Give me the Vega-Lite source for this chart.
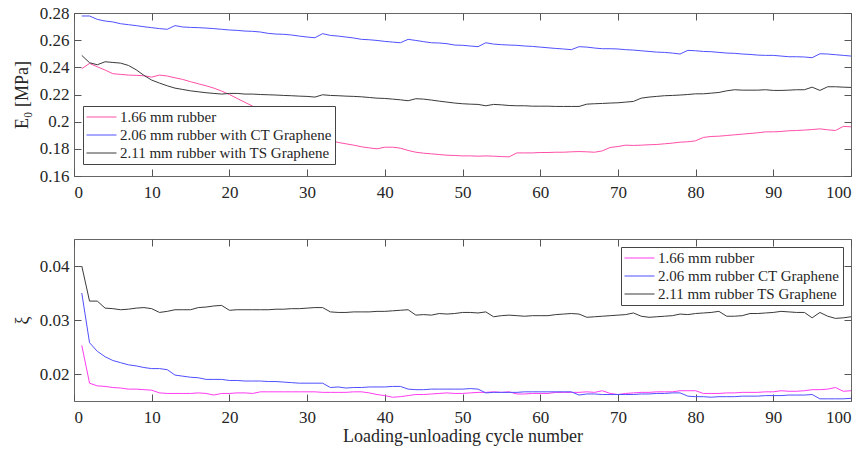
{
"$schema":"https://vega.github.io/schema/vega-lite/v6.json",
"autosize":{"type":"pad"},
"padding":{"left":12,"top":3,"right":5,"bottom":4},
"background":"white",
"bounds":"flush",
"spacing":63,
"config":{
 "font":"Liberation Serif",
 "view":{"stroke":"#666","strokeWidth":1},
 "axis":{"domain":false,"grid":false,"tickColor":"#555","tickSize":-7,"labelFont":"Liberation Serif","labelFontSize":17,"labelColor":"#262626","titleFont":"Liberation Serif","titleFontSize":18,"titleFontWeight":"normal","titleColor":"#262626"},
 "legend":{"orient":"none","symbolType":"M-1,0H3","symbolSize":225,"symbolStrokeWidth":1,"labelFont":"Liberation Serif","labelFontSize":15,"labelColor":"#262626","strokeColor":"#444","fillColor":"white","padding":3,"rowPadding":2,"labelOffset":18,"labelLimit":0,"title":null}
},
"datasets":{
"top":[
{"c":1,"p":0.2390,"b":0.2778,"k":0.2488},
{"c":2,"p":0.2429,"b":0.2778,"k":0.2434},
{"c":3,"p":0.2404,"b":0.2753,"k":0.2419},
{"c":4,"p":0.2380,"b":0.2741,"k":0.2441},
{"c":5,"p":0.2353,"b":0.2734,"k":0.2436},
{"c":6,"p":0.2348,"b":0.2721,"k":0.2431},
{"c":7,"p":0.2343,"b":0.2714,"k":0.2414},
{"c":8,"p":0.2341,"b":0.2707,"k":0.2382},
{"c":9,"p":0.2338,"b":0.2699,"k":0.2341},
{"c":10,"p":0.2328,"b":0.2692,"k":0.2306},
{"c":11,"p":0.2343,"b":0.2685,"k":0.2284},
{"c":12,"p":0.2336,"b":0.2680,"k":0.2264},
{"c":13,"p":0.2323,"b":0.2707,"k":0.2247},
{"c":14,"p":0.2311,"b":0.2697,"k":0.2237},
{"c":15,"p":0.2294,"b":0.2694,"k":0.2227},
{"c":16,"p":0.2279,"b":0.2692,"k":0.2220},
{"c":17,"p":0.2264,"b":0.2689,"k":0.2213},
{"c":18,"p":0.2247,"b":0.2685,"k":0.2208},
{"c":19,"p":0.2225,"b":0.2680,"k":0.2203},
{"c":20,"p":0.2200,"b":0.2675,"k":0.2208},
{"c":21,"p":0.2171,"b":0.2672,"k":0.2208},
{"c":22,"p":0.2142,"b":0.2667,"k":0.2203},
{"c":23,"p":0.2114,"b":0.2665,"k":0.2203},
{"c":24,"p":0.2086,"b":0.2660,"k":0.2200},
{"c":25,"p":0.2058,"b":0.2650,"k":0.2198},
{"c":26,"p":0.2030,"b":0.2645,"k":0.2196},
{"c":27,"p":0.2003,"b":0.2643,"k":0.2193},
{"c":28,"p":0.1978,"b":0.2638,"k":0.2191},
{"c":29,"p":0.1954,"b":0.2630,"k":0.2188},
{"c":30,"p":0.1931,"b":0.2623,"k":0.2186},
{"c":31,"p":0.1909,"b":0.2618,"k":0.2181},
{"c":32,"p":0.1886,"b":0.2648,"k":0.2198},
{"c":33,"p":0.1862,"b":0.2635,"k":0.2193},
{"c":34,"p":0.1847,"b":0.2630,"k":0.2191},
{"c":35,"p":0.1837,"b":0.2623,"k":0.2188},
{"c":36,"p":0.1827,"b":0.2616,"k":0.2186},
{"c":37,"p":0.1815,"b":0.2606,"k":0.2183},
{"c":38,"p":0.1807,"b":0.2603,"k":0.2178},
{"c":39,"p":0.1800,"b":0.2598,"k":0.2173},
{"c":40,"p":0.1812,"b":0.2591,"k":0.2171},
{"c":41,"p":0.1812,"b":0.2586,"k":0.2166},
{"c":42,"p":0.1805,"b":0.2581,"k":0.2161},
{"c":43,"p":0.1788,"b":0.2606,"k":0.2154},
{"c":44,"p":0.1775,"b":0.2598,"k":0.2169},
{"c":45,"p":0.1768,"b":0.2589,"k":0.2166},
{"c":46,"p":0.1763,"b":0.2581,"k":0.2159},
{"c":47,"p":0.1758,"b":0.2579,"k":0.2151},
{"c":48,"p":0.1753,"b":0.2574,"k":0.2144},
{"c":49,"p":0.1751,"b":0.2564,"k":0.2137},
{"c":50,"p":0.1748,"b":0.2562,"k":0.2132},
{"c":51,"p":0.1748,"b":0.2557,"k":0.2129},
{"c":52,"p":0.1746,"b":0.2552,"k":0.2127},
{"c":53,"p":0.1748,"b":0.2581,"k":0.2117},
{"c":54,"p":0.1746,"b":0.2571,"k":0.2127},
{"c":55,"p":0.1743,"b":0.2567,"k":0.2124},
{"c":56,"p":0.1741,"b":0.2564,"k":0.2119},
{"c":57,"p":0.1770,"b":0.2562,"k":0.2117},
{"c":58,"p":0.1770,"b":0.2557,"k":0.2117},
{"c":59,"p":0.1770,"b":0.2554,"k":0.2114},
{"c":60,"p":0.1773,"b":0.2549,"k":0.2114},
{"c":61,"p":0.1773,"b":0.2544,"k":0.2114},
{"c":62,"p":0.1775,"b":0.2539,"k":0.2112},
{"c":63,"p":0.1775,"b":0.2535,"k":0.2112},
{"c":64,"p":0.1778,"b":0.2530,"k":0.2112},
{"c":65,"p":0.1780,"b":0.2552,"k":0.2112},
{"c":66,"p":0.1778,"b":0.2549,"k":0.2129},
{"c":67,"p":0.1775,"b":0.2542,"k":0.2132},
{"c":68,"p":0.1785,"b":0.2537,"k":0.2134},
{"c":69,"p":0.1810,"b":0.2537,"k":0.2137},
{"c":70,"p":0.1817,"b":0.2535,"k":0.2139},
{"c":71,"p":0.1827,"b":0.2530,"k":0.2144},
{"c":72,"p":0.1825,"b":0.2527,"k":0.2149},
{"c":73,"p":0.1827,"b":0.2522,"k":0.2173},
{"c":74,"p":0.1830,"b":0.2517,"k":0.2181},
{"c":75,"p":0.1832,"b":0.2512,"k":0.2186},
{"c":76,"p":0.1837,"b":0.2510,"k":0.2191},
{"c":77,"p":0.1842,"b":0.2505,"k":0.2193},
{"c":78,"p":0.1849,"b":0.2498,"k":0.2196},
{"c":79,"p":0.1852,"b":0.2525,"k":0.2200},
{"c":80,"p":0.1859,"b":0.2522,"k":0.2205},
{"c":81,"p":0.1884,"b":0.2517,"k":0.2205},
{"c":82,"p":0.1891,"b":0.2515,"k":0.2210},
{"c":83,"p":0.1893,"b":0.2510,"k":0.2215},
{"c":84,"p":0.1898,"b":0.2505,"k":0.2227},
{"c":85,"p":0.1903,"b":0.2503,"k":0.2235},
{"c":86,"p":0.1908,"b":0.2498,"k":0.2232},
{"c":87,"p":0.1913,"b":0.2495,"k":0.2232},
{"c":88,"p":0.1918,"b":0.2490,"k":0.2232},
{"c":89,"p":0.1925,"b":0.2488,"k":0.2235},
{"c":90,"p":0.1925,"b":0.2488,"k":0.2230},
{"c":91,"p":0.1928,"b":0.2483,"k":0.2230},
{"c":92,"p":0.1933,"b":0.2478,"k":0.2232},
{"c":93,"p":0.1935,"b":0.2478,"k":0.2235},
{"c":94,"p":0.1938,"b":0.2476,"k":0.2235},
{"c":95,"p":0.1942,"b":0.2471,"k":0.2254},
{"c":96,"p":0.1947,"b":0.2500,"k":0.2230},
{"c":97,"p":0.1940,"b":0.2498,"k":0.2257},
{"c":98,"p":0.1935,"b":0.2493,"k":0.2257},
{"c":99,"p":0.1965,"b":0.2488,"k":0.2254},
{"c":100,"p":0.1962,"b":0.2483,"k":0.2252}
],
"bot":[
{"c":1,"p":0.0253,"b":0.0350,"k":0.0400},
{"c":2,"p":0.0183,"b":0.0258,"k":0.0335},
{"c":3,"p":0.0178,"b":0.0242,"k":0.0335},
{"c":4,"p":0.0177,"b":0.0232,"k":0.0322},
{"c":5,"p":0.0175,"b":0.0225,"k":0.0321},
{"c":6,"p":0.0174,"b":0.0221,"k":0.0319},
{"c":7,"p":0.0172,"b":0.0217,"k":0.0320},
{"c":8,"p":0.0172,"b":0.0215,"k":0.0322},
{"c":9,"p":0.0171,"b":0.0212,"k":0.0323},
{"c":10,"p":0.0170,"b":0.0210,"k":0.0321},
{"c":11,"p":0.0165,"b":0.0210,"k":0.0314},
{"c":12,"p":0.0164,"b":0.0208,"k":0.0316},
{"c":13,"p":0.0164,"b":0.0198,"k":0.0319},
{"c":14,"p":0.0164,"b":0.0196,"k":0.0319},
{"c":15,"p":0.0164,"b":0.0194,"k":0.0319},
{"c":16,"p":0.0165,"b":0.0193,"k":0.0323},
{"c":17,"p":0.0164,"b":0.0190,"k":0.0324},
{"c":18,"p":0.0161,"b":0.0190,"k":0.0326},
{"c":19,"p":0.0164,"b":0.0190,"k":0.0327},
{"c":20,"p":0.0164,"b":0.0188,"k":0.0318},
{"c":21,"p":0.0165,"b":0.0188,"k":0.0319},
{"c":22,"p":0.0165,"b":0.0187,"k":0.0319},
{"c":23,"p":0.0164,"b":0.0187,"k":0.0319},
{"c":24,"p":0.0167,"b":0.0187,"k":0.0319},
{"c":25,"p":0.0167,"b":0.0186,"k":0.0319},
{"c":26,"p":0.0167,"b":0.0186,"k":0.0320},
{"c":27,"p":0.0167,"b":0.0185,"k":0.0320},
{"c":28,"p":0.0167,"b":0.0184,"k":0.0321},
{"c":29,"p":0.0167,"b":0.0183,"k":0.0321},
{"c":30,"p":0.0167,"b":0.0183,"k":0.0322},
{"c":31,"p":0.0167,"b":0.0183,"k":0.0323},
{"c":32,"p":0.0166,"b":0.0183,"k":0.0323},
{"c":33,"p":0.0166,"b":0.0175,"k":0.0315},
{"c":34,"p":0.0166,"b":0.0176,"k":0.0314},
{"c":35,"p":0.0166,"b":0.0174,"k":0.0314},
{"c":36,"p":0.0167,"b":0.0175,"k":0.0315},
{"c":37,"p":0.0167,"b":0.0175,"k":0.0315},
{"c":38,"p":0.0165,"b":0.0176,"k":0.0315},
{"c":39,"p":0.0162,"b":0.0176,"k":0.0316},
{"c":40,"p":0.0160,"b":0.0176,"k":0.0316},
{"c":41,"p":0.0157,"b":0.0177,"k":0.0317},
{"c":42,"p":0.0158,"b":0.0177,"k":0.0318},
{"c":43,"p":0.0160,"b":0.0172,"k":0.0319},
{"c":44,"p":0.0162,"b":0.0171,"k":0.0309},
{"c":45,"p":0.0162,"b":0.0171,"k":0.0310},
{"c":46,"p":0.0163,"b":0.0172,"k":0.0309},
{"c":47,"p":0.0164,"b":0.0172,"k":0.0312},
{"c":48,"p":0.0165,"b":0.0172,"k":0.0311},
{"c":49,"p":0.0164,"b":0.0172,"k":0.0312},
{"c":50,"p":0.0164,"b":0.0172,"k":0.0314},
{"c":51,"p":0.0165,"b":0.0173,"k":0.0314},
{"c":52,"p":0.0166,"b":0.0172,"k":0.0313},
{"c":53,"p":0.0166,"b":0.0165,"k":0.0315},
{"c":54,"p":0.0167,"b":0.0166,"k":0.0306},
{"c":55,"p":0.0166,"b":0.0166,"k":0.0308},
{"c":56,"p":0.0167,"b":0.0166,"k":0.0309},
{"c":57,"p":0.0163,"b":0.0166,"k":0.0308},
{"c":58,"p":0.0163,"b":0.0167,"k":0.0307},
{"c":59,"p":0.0164,"b":0.0167,"k":0.0308},
{"c":60,"p":0.0164,"b":0.0167,"k":0.0308},
{"c":61,"p":0.0164,"b":0.0167,"k":0.0308},
{"c":62,"p":0.0166,"b":0.0167,"k":0.0310},
{"c":63,"p":0.0166,"b":0.0167,"k":0.0311},
{"c":64,"p":0.0166,"b":0.0167,"k":0.0312},
{"c":65,"p":0.0166,"b":0.0161,"k":0.0311},
{"c":66,"p":0.0167,"b":0.0163,"k":0.0305},
{"c":67,"p":0.0166,"b":0.0163,"k":0.0306},
{"c":68,"p":0.0169,"b":0.0162,"k":0.0307},
{"c":69,"p":0.0164,"b":0.0162,"k":0.0308},
{"c":70,"p":0.0162,"b":0.0162,"k":0.0309},
{"c":71,"p":0.0164,"b":0.0162,"k":0.0310},
{"c":72,"p":0.0165,"b":0.0162,"k":0.0313},
{"c":73,"p":0.0166,"b":0.0163,"k":0.0307},
{"c":74,"p":0.0166,"b":0.0163,"k":0.0305},
{"c":75,"p":0.0167,"b":0.0164,"k":0.0306},
{"c":76,"p":0.0167,"b":0.0164,"k":0.0307},
{"c":77,"p":0.0167,"b":0.0165,"k":0.0308},
{"c":78,"p":0.0169,"b":0.0165,"k":0.0311},
{"c":79,"p":0.0169,"b":0.0159,"k":0.0310},
{"c":80,"p":0.0169,"b":0.0158,"k":0.0312},
{"c":81,"p":0.0164,"b":0.0158,"k":0.0313},
{"c":82,"p":0.0164,"b":0.0157,"k":0.0314},
{"c":83,"p":0.0164,"b":0.0158,"k":0.0316},
{"c":84,"p":0.0165,"b":0.0158,"k":0.0307},
{"c":85,"p":0.0165,"b":0.0158,"k":0.0307},
{"c":86,"p":0.0166,"b":0.0159,"k":0.0308},
{"c":87,"p":0.0166,"b":0.0159,"k":0.0312},
{"c":88,"p":0.0166,"b":0.0159,"k":0.0312},
{"c":89,"p":0.0167,"b":0.0160,"k":0.0313},
{"c":90,"p":0.0167,"b":0.0160,"k":0.0314},
{"c":91,"p":0.0169,"b":0.0160,"k":0.0316},
{"c":92,"p":0.0168,"b":0.0161,"k":0.0315},
{"c":93,"p":0.0168,"b":0.0161,"k":0.0314},
{"c":94,"p":0.0169,"b":0.0161,"k":0.0314},
{"c":95,"p":0.0171,"b":0.0162,"k":0.0304},
{"c":96,"p":0.0171,"b":0.0154,"k":0.0314},
{"c":97,"p":0.0172,"b":0.0154,"k":0.0307},
{"c":98,"p":0.0175,"b":0.0154,"k":0.0303},
{"c":99,"p":0.0168,"b":0.0154,"k":0.0304},
{"c":100,"p":0.0169,"b":0.0155,"k":0.0306}
]
},
"vconcat":[
{
 "width":777,"height":163,
 "data":{"name":"top"},
 "transform":[{"fold":["p","b","k"],"as":["s","v"]}],
 "layer":[
  {"mark":{"type":"line","strokeWidth":1,"clip":true},
   "encoding":{
    "x":{"field":"c","type":"quantitative","scale":{"domain":[0,100],"nice":false},"axis":{"orient":"bottom","values":[0,10,20,30,40,50,60,70,80,90,100],"format":"d","labelPadding":15,"title":null}},
    "y":{"field":"v","type":"quantitative","scale":{"domain":[0.16,0.28],"nice":false,"zero":false},"axis":{"orient":"left","values":[0.16,0.18,0.2,0.22,0.24,0.26,0.28],"format":"~g","labelPadding":12,"title":"E₀ [MPa]","titlePadding":8}},
    "color":{"field":"s","type":"nominal","scale":{"domain":["p","b","k"],"range":["#ff4fa8","#5050ff","#3a3a3a"]},
     "legend":{"legendX":9,"legendY":93,"labelExpr":"datum.label == 'p' ? '1.66 mm rubber' : datum.label == 'b' ? '2.06 mm rubber with CT Graphene' : '2.11 mm rubber with TS Graphene'"}}
   }},
  {"mark":{"type":"point","opacity":0},
   "encoding":{
    "x":{"field":"c","type":"quantitative","axis":{"orient":"top","values":[0,10,20,30,40,50,60,70,80,90,100],"labels":false,"title":null}},
    "y":{"field":"v","type":"quantitative","axis":{"orient":"right","values":[0.16,0.18,0.2,0.22,0.24,0.26,0.28],"labels":false,"title":null}}
   }}
 ],
 "resolve":{"axis":{"x":"independent","y":"independent"}}
},
{
 "width":777,"height":162,
 "data":{"name":"bot"},
 "transform":[{"fold":["p","b","k"],"as":["s","v"]}],
 "layer":[
  {"mark":{"type":"line","strokeWidth":1,"clip":true},
   "encoding":{
    "x":{"field":"c","type":"quantitative","scale":{"domain":[0,100],"nice":false},"axis":{"orient":"bottom","values":[0,10,20,30,40,50,60,70,80,90,100],"format":"d","labelPadding":15,"title":"Loading-unloading cycle number","titlePadding":2}},
    "y":{"field":"v","type":"quantitative","scale":{"domain":[0.015,0.045],"nice":false,"zero":false},"axis":{"orient":"left","values":[0.02,0.03,0.04],"format":"~g","labelPadding":12,"title":"ξ","titlePadding":8}},
    "color":{"field":"s","type":"nominal","scale":{"domain":["p","b","k"],"range":["#ff3cf0","#4f4fff","#3a3a3a"]},
     "legend":{"legendX":547,"legendY":8,"labelExpr":"datum.label == 'p' ? '1.66 mm rubber' : datum.label == 'b' ? '2.06 mm rubber CT Graphene' : '2.11 mm rubber TS Graphene'"}}
   }},
  {"mark":{"type":"point","opacity":0},
   "encoding":{
    "x":{"field":"c","type":"quantitative","axis":{"orient":"top","values":[0,10,20,30,40,50,60,70,80,90,100],"labels":false,"title":null}},
    "y":{"field":"v","type":"quantitative","axis":{"orient":"right","values":[0.02,0.03,0.04],"labels":false,"title":null}}
   }}
 ],
 "resolve":{"axis":{"x":"independent","y":"independent"}}
}
],
"resolve":{"scale":{"x":"independent","y":"independent","color":"independent"},"legend":{"color":"independent"}}
}
